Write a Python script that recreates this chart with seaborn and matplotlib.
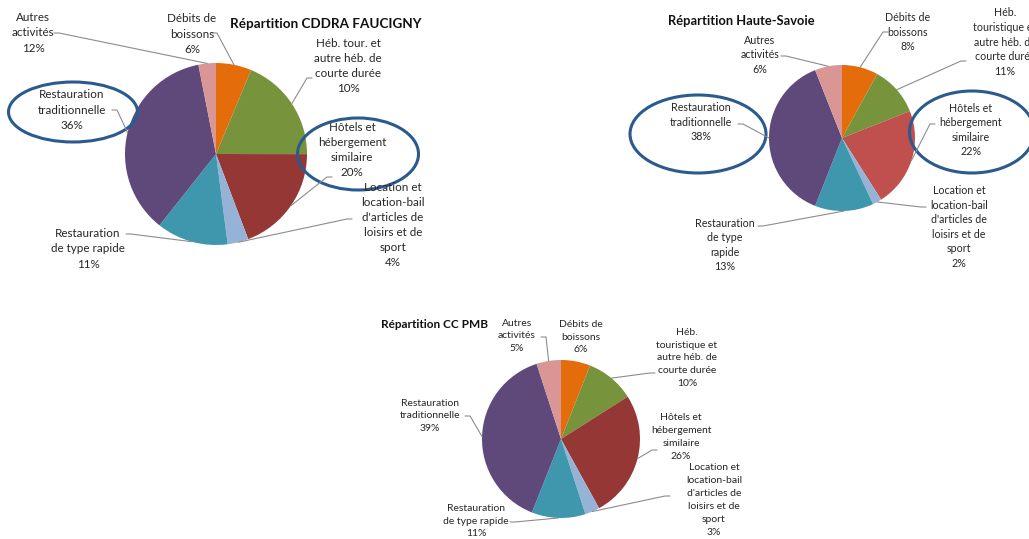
import numpy as np
import matplotlib
matplotlib.use("Agg")
import matplotlib.pyplot as plt
from matplotlib.patches import Ellipse
import seaborn as sns

# ---- data ----
# slice order: clockwise from 12 o'clock
slice_keys = ["debits", "heb", "hotels", "location", "rapide", "trad", "autres"]

faucigny_title = "Répartition CDDRA FAUCIGNY"
# wedge sizes as drawn in the source picture (they differ from the printed labels)
faucigny_shares = [6.3, 18.7, 19.2, 3.7, 12.7, 36.2, 3.1]
faucigny_pct = [6, 10, 20, 4, 11, 36, 12]
faucigny_names = ["Débits de\nboissons",
                  "Héb. tour. et\nautre héb. de\ncourte durée",
                  "Hôtels et\nhébergement\nsimilaire",
                  "Location et\nlocation-bail\nd'articles de\nloisirs et de\nsport",
                  "Restauration\nde type rapide",
                  "Restauration\ntraditionnelle",
                  "Autres\nactivités"]

hs_title = "Répartition Haute-Savoie"
hs_pct = [8, 11, 22, 2, 13, 38, 6]
hs_names = ["Débits de\nboissons",
            "Héb.\ntouristique et\nautre héb. de\ncourte durée",
            "Hôtels et\nhébergement\nsimilaire",
            "Location et\nlocation-bail\nd'articles de\nloisirs et de\nsport",
            "Restauration\nde type\nrapide",
            "Restauration\ntraditionnelle",
            "Autres\nactivités"]

pmb_title = "Répartition CC PMB"
pmb_pct = [6, 10, 26, 3, 11, 39, 5]
pmb_names = ["Débits de\nboissons",
             "Héb.\ntouristique et\nautre héb. de\ncourte durée",
             "Hôtels et\nhébergement\nsimilaire",
             "Location et\nlocation-bail\nd'articles de\nloisirs et de\nsport",
             "Restauration\nde type rapide",
             "Restauration\ntraditionnelle",
             "Autres\nactivités"]

# ---- style ----
sns.set_theme(style="white")
plt.rcParams['font.family'] = ['Lato', 'DejaVu Sans']

W, H = 1029, 539
base_colors = ["#E46C0A", "#77933C", "#953735", "#95B3D7", "#3F97AE", "#5F497A", "#D99694"]
hs_colors = base_colors.copy()
hs_colors[2] = "#C0504D"
text_col = "#262626"
line_col = "#8C8C8C"
ring_col = "#2B5A8E"

fig = plt.figure(figsize=(W / 100, H / 100), dpi=100)
ax = fig.add_axes([0, 0, 1, 1])
ax.set_xlim(0, W)
ax.set_ylim(0, H)
ax.set_aspect("equal")
ax.axis("off")


def Y(y):
    # layout positions are measured from the top of the image
    return H - y


def draw_pie(values, pct, names, colors, center, radius, label_pos, leader_from, fs, ls):
    cx, cy = center
    ax.pie(values, colors=colors, startangle=90, counterclock=False,
           center=(cx, Y(cy)), radius=radius, wedgeprops=dict(linewidth=0),
           frame=True)
    total = float(sum(values))
    cum = np.cumsum([0] + list(values))[:-1]
    for i, v in enumerate(values):
        mid = np.deg2rad((cum[i] + v / 2) / total * 360)
        ex = cx + radius * np.sin(mid)
        ey = Y(cy) + radius * np.cos(mid)
        lx, ly = label_pos[i]
        ax.text(lx, Y(ly), f"{names[i]}\n{pct[i]}%", ha="center", va="center",
                multialignment="center", fontsize=fs, color=text_col, linespacing=ls)
        if leader_from[i] is not None:
            sx, sy = leader_from[i]
            step = 5 if ex > sx else -5
            ax.plot([sx, sx + step, ex], [Y(sy), Y(sy), ey], color=line_col, lw=0.8)


# CDDRA Faucigny
draw_pie(faucigny_shares, faucigny_pct, faucigny_names, base_colors,
         center=(216, 154), radius=91,
         label_pos=[(192, 34), (348, 66), (352, 150), (393, 225), (88, 249), (72, 110), (33, 33)],
         leader_from=[(212, 33), (312, 78), (332, 177), (352, 219), (126, 234), (112, 110), (54, 33)],
         fs=8.4, ls=1.45)
ax.text(230, Y(24), faucigny_title, fontsize=9.7, fontweight="bold", color="#111111",
        ha="left", va="center")

# Haute-Savoie
draw_pie(hs_pct, hs_pct, hs_names, hs_colors,
         center=(842, 138), radius=73,
         label_pos=[(908, 32), (1005, 42), (971, 130), (959, 227), (725, 245), (701, 122), (760, 55)],
         leader_from=[(888, 32), (966, 61), (935, 124), (926, 207), (758, 226), (738, 124), (781, 56)],
         fs=7.7, ls=1.4)
ax.text(668, Y(21), hs_title, fontsize=9.3, fontweight="bold", color="#111111",
        ha="left", va="center")

# CC PMB
draw_pie(pmb_pct, pmb_pct, pmb_names, base_colors,
         center=(561, 439), radius=79,
         label_pos=[(581, 337), (687, 358), (681, 437), (714, 500), (476, 521), (430, 416), (517, 336)],
         leader_from=[None, (655, 373), (657, 450), (670, 496), (510, 522), (465, 416), (541, 337)],
         fs=7.5, ls=1.55)
ax.text(381, Y(324), pmb_title, fontsize=8.5, fontweight="bold", color="#111111",
        ha="left", va="center")

# highlight rings
rings = [(73, 112, 129, 60), (358, 154, 121, 72), (698, 134, 136, 78), (972, 132, 125, 82)]
for ex_, ey_, ew, eh in rings:
    ax.add_patch(Ellipse((ex_, Y(ey_)), ew, eh, fill=False, edgecolor=ring_col, lw=2.2))

ax.set_xlim(0, W)
ax.set_ylim(0, H)
ax.axis("off")
fig.savefig("out.png", dpi=100, facecolor="white")
